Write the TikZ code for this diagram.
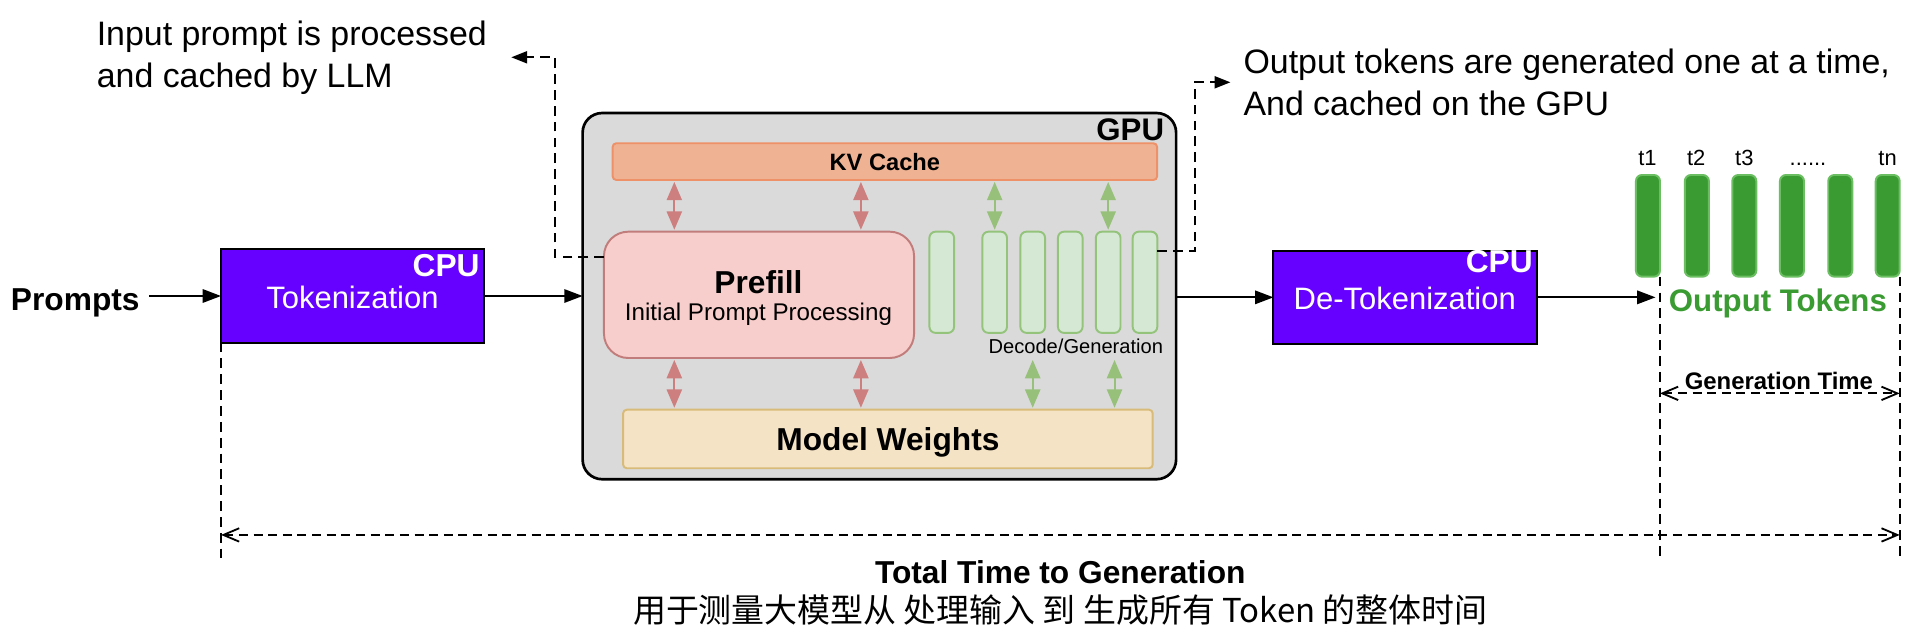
\documentclass[tikz,border=0pt]{standalone}
\usepackage{fontspec}
\setmainfont{Liberation Sans}
\newfontfamily\cjk{Noto Sans CJK SC}
\usetikzlibrary{arrows.meta}
\definecolor{violetbox}{HTML}{6600FF}
\definecolor{gpugray}{HTML}{DADADA}
\definecolor{kvfill}{HTML}{EFB394}
\definecolor{kvline}{HTML}{EE9168}
\definecolor{pffill}{HTML}{F8CECC}
\definecolor{pfline}{HTML}{C07D7B}
\definecolor{decfill}{HTML}{D5E8D4}
\definecolor{decline}{HTML}{94C47C}
\definecolor{mwfill}{HTML}{F5E3C5}
\definecolor{mwline}{HTML}{D9BB79}
\definecolor{redarrow}{HTML}{CC7F7E}
\definecolor{greenarrow}{HTML}{97C07A}
\definecolor{outfill}{HTML}{3A9B32}
\definecolor{outline}{HTML}{6BBF62}
\begin{document}
\begin{tikzpicture}[x=0.5pt,y=-0.5pt,
  txt/.style={inner sep=0pt, outer sep=0pt, text depth=0pt},
  cpubox/.style={draw=black, line width=0.8pt, fill=violetbox, inner sep=0pt, outer sep=0pt, minimum width=108pt, minimum height=38.25pt},
  gpubox/.style={draw=black, line width=1.1pt, fill=gpugray, rounded corners=8pt, inner sep=0pt, outer sep=0pt},
  kvbox/.style={draw=kvline, line width=0.8pt, fill=kvfill, rounded corners=1.5pt, inner sep=0pt, outer sep=0pt, text depth=0pt},
  pfbox/.style={draw=pfline, line width=0.8pt, fill=pffill, rounded corners=10pt, inner sep=0pt, outer sep=0pt},
  dbar/.style={draw=decline, line width=0.8pt, fill=decfill, rounded corners=2.5pt, inner sep=0pt, outer sep=0pt, minimum width=10.1pt, minimum height=41.5pt},
  mwbox/.style={draw=mwline, line width=0.8pt, fill=mwfill, rounded corners=1.5pt, inner sep=0pt, outer sep=0pt, text depth=0pt},
  obar/.style={draw=outline, line width=0.8pt, fill=outfill, rounded corners=2.5pt, inner sep=0pt, outer sep=0pt, minimum width=9.85pt, minimum height=41.7pt},
  tlabel/.style={inner sep=0pt, anchor=base, font=\fontsize{9pt}{11pt}\selectfont},
  arr/.style={-{Triangle[length=7.5pt,width=5.5pt]}, line width=0.7pt},
  dsh/.style={line width=0.7pt, dash pattern=on 4pt off 2.5pt},
  dtip/.style={-{Triangle[length=6.5pt,width=5pt]}},
  dblr/.style={{Triangle[length=7.5pt,width=6.2pt]}-{Triangle[length=7.5pt,width=6.2pt]}, line width=0.8pt, draw=redarrow, fill=redarrow, shorten <=0.8pt, shorten >=0.8pt},
  dblg/.style={{Triangle[length=7.5pt,width=6.2pt]}-{Triangle[length=7.5pt,width=6.2pt]}, line width=0.8pt, draw=greenarrow, fill=greenarrow, shorten <=0.8pt, shorten >=0.8pt},
  timearr/.style={line width=0.75pt, dash pattern=on 3.7pt off 2.3pt, {Straight Barb[length=6.5pt,width=5.5pt]}-{Straight Barb[length=6.5pt,width=5.5pt]}}
]
\useasboundingbox (0,0) rectangle (1568,523);

% GPU container and its parts
\node[gpubox, minimum width=243.35pt, minimum height=150.15pt] (gpu) at (721.15,242.85) {};
\node[txt, anchor=east, font=\fontsize{12.8pt}{15pt}\selectfont\bfseries] (gpuL) at (954.6,106) {GPU};
\node[kvbox, minimum width=223.25pt, minimum height=15.05pt, font=\fontsize{9.7pt}{11pt}\selectfont\bfseries] (kv) at (725.65,132.55) {KV Cache};
\node[pfbox, minimum width=127.15pt, minimum height=51.8pt] (prefill) at (622.45,241.8) {};
\node[txt, font=\fontsize{13pt}{15pt}\selectfont\bfseries] (pf1) at (622,231.5) {Prefill};
\node[txt, font=\fontsize{9.9pt}{12pt}\selectfont] (pf2) at (622,256) {Initial Prompt Processing};
\foreach \i/\x in {1/772.3,2/815.7,3/846.9,4/877.7,5/908.8,6/939}
  \node[dbar] (d\i) at (\x,231.5) {};
\node[txt, anchor=east, font=\fontsize{8.25pt}{10pt}\selectfont] (decL) at (953.8,284) {Decode/Generation};
\node[mwbox, minimum width=217.15pt, minimum height=24pt, font=\fontsize{13pt}{15pt}\selectfont\bfseries] (mw) at (728.15,360) {Model Weights};

% double arrows inside GPU
\coordinate (xa) at (553,0);
\coordinate (xb) at (706,0);
\coordinate (xc) at (914,0);
\draw[dblr] (kv.south -| xa) -- (prefill.north -| xa);
\draw[dblr] (kv.south -| xb) -- (prefill.north -| xb);
\draw[dblr] (prefill.south -| xa) -- (mw.north -| xa);
\draw[dblr] (prefill.south -| xb) -- (mw.north -| xb);
\draw[dblg] (kv.south -| d2.north) -- (d2.north);
\draw[dblg] (kv.south -| d5.north) -- (d5.north);
\draw[dblg] (prefill.south -| d3.north) -- (mw.north -| d3.north);
\draw[dblg] (prefill.south -| xc) -- (mw.north -| xc);

% CPU boxes
\node[cpubox] (tok) at (289.25,242.75) {};
\node[txt, anchor=east, text=white, font=\fontsize{13pt}{15pt}\selectfont\bfseries] (cpu1) at (393.3,217.3) {CPU};
\node[txt, text=white, font=\fontsize{12.7pt}{15pt}\selectfont] (tokL) at (289,244) {Tokenization};
\node[cpubox] (detok) at (1152.3,243.85) {};
\node[txt, anchor=east, text=white, font=\fontsize{13pt}{15pt}\selectfont\bfseries] (cpu2) at (1257,214.6) {CPU};
\node[txt, text=white, font=\fontsize{12.7pt}{15pt}\selectfont] (detokL) at (1152,244.6) {De-Tokenization};

% Prompts
\node[txt, inner xsep=4pt, anchor=west, font=\fontsize{13pt}{15pt}\selectfont\bfseries] (prompts) at (1,246) {Prompts};

% output tokens
\foreach \i/\x in {1/1351.45,2/1391.55,3/1430.45,4/1469.55,5/1509.15,6/1548.05}
  \node[obar] (o\i) at (\x,185.2) {};
\node[tlabel] (tl1) at (1351,135.4) {t1};
\node[tlabel] (tl2) at (1391,135.4) {t2};
\node[tlabel] (tl3) at (1430.5,135.4) {t3};
\node[tlabel] (tl4) at (1482.7,135.4) {......};
\node[tlabel] (tl5) at (1548,135.4) {tn};
\node[txt, inner xsep=5.5pt, text=outfill, font=\fontsize{12.8pt}{15pt}\selectfont\bfseries] (ol) at (1458,246) {Output Tokens};

% annotations
\node[inner xsep=9.85pt, inner ysep=0pt, anchor=west, align=left, font=\fontsize{13.9pt}{17.25pt}\selectfont] (inL) at (59.3,47) {Input prompt is processed\\and cached by LLM};
\node[inner xsep=5.2pt, inner ysep=0pt, anchor=west, align=left, font=\fontsize{13.9pt}{17.25pt}\selectfont] (outR) at (1009,67.5) {Output tokens are generated one at a time,\\And cached on the GPU};

% main flow arrows
\draw[arr] (prompts.east |- tok.west) -- (tok.west);
\draw[arr] (tok.east) -- (tok.east -| gpu.west);
\draw[arr] (gpu.east |- detok.west) -- (detok.west);
\draw[arr] (detok.east) -- (detok.east -| ol.west);

% dashed annotation arrows
\coordinate (yL) at (0,210.5);
\coordinate (xL) at (455,0);
\coordinate (yR) at (0,206);
\coordinate (xR) at (980,0);
\draw[dsh, dtip] (prefill.west |- yL) -- (xL |- yL) |- (inL.east);
\draw[dsh, dtip] (d6.east |- yR) -- (xR |- yR) |- (outR.west);

% timing guides
\coordinate (ybot) at (0,459);
\coordinate (yT) at (0,438.7);
\coordinate (yG) at (0,322.6);
\draw[dsh] (tok.south west) -- (tok.south west |- ybot);
\draw[dsh] (o1.south east) -- (o1.south east |- ybot);
\draw[dsh] (o6.south east) -- (o6.south east |- ybot);
\draw[timearr] (o1.south east |- yG) -- (o6.south east |- yG);
\draw[timearr] (tok.south west |- yT) -- (o6.south east |- yT);
\node[txt, font=\fontsize{9.8pt}{12pt}\selectfont\bfseries] (gt) at (1458.8,312) {Generation Time};
\node[txt, font=\fontsize{13pt}{15pt}\selectfont\bfseries] (tt) at (869.5,469) {Total Time to Generation};
\node[txt, font=\cjk\fontsize{13.5pt}{15pt}\selectfont] (cn) at (869.5,499) {用于测量大模型从 处理输入 到 生成所有 Token 的整体时间};
\end{tikzpicture}
\end{document}
